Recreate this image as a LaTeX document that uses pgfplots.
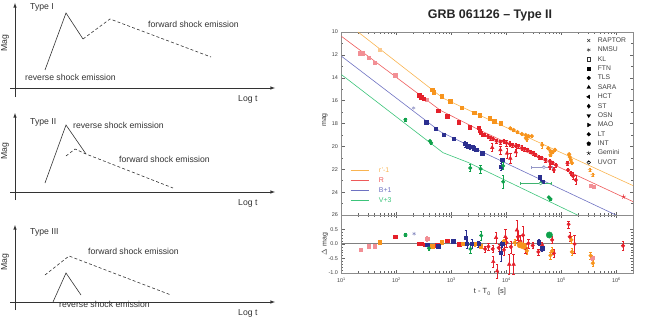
\documentclass[border=0pt]{standalone}
\usepackage{pgfplots}
\pgfplotsset{compat=1.18}
\usepackage{fontspec}
\setmainfont{Liberation Sans}

\definecolor{cOr}{HTML}{F7941D}
\definecolor{cRe}{HTML}{E4202A}
\definecolor{cBl}{HTML}{2B2F8F}
\definecolor{cGr}{HTML}{0FA14B}
\definecolor{lOr}{HTML}{F9B451}
\definecolor{lRe}{HTML}{EE5A5A}
\definecolor{lBl}{HTML}{6E72C2}
\definecolor{lGr}{HTML}{3CC47A}
\definecolor{ink}{HTML}{333333}

\pgfplotsset{
  dat/.style={only marks, mark=square*, mark size=1.7bp, color=#1, mark options={draw=#1, fill=#1}},
  err/.style={error bars/.cd, y dir=both, y explicit,
    error bar style={line width=0.4bp},
    error mark options={rotate=90, mark size=1.2bp, line width=0.4bp}},
}

\begin{document}
\begin{tikzpicture}
\path (0,0) rectangle (645bp,327bp);

% ---------- schematic panels (pixel frame) ----------
\begin{axis}[at={(0,0)}, anchor=south west, scale only axis, width=645bp, height=327bp,
  xmin=0, xmax=645, ymin=0, ymax=327, y dir=reverse, hide axis, clip=false]
  % axes
  \draw[ink, line width=0.6bp, -latex] (axis cs:15,97) -- (axis cs:15,3);
  \draw[ink, line width=0.6bp, -latex] (axis cs:10,88) -- (axis cs:275,88);
  \draw[ink, line width=0.6bp, -latex] (axis cs:15,200) -- (axis cs:15,113);
  \draw[ink, line width=0.6bp, -latex] (axis cs:10,192) -- (axis cs:275,192);
  \draw[ink, line width=0.6bp, -latex] (axis cs:15,310) -- (axis cs:15,225);
  \draw[ink, line width=0.6bp, -latex] (axis cs:10,302) -- (axis cs:275,302);
  % Type I
  \addplot[ink, line width=0.6bp] coordinates {(45,70) (66,13) (83,39)};
  \addplot[ink, line width=0.6bp, dash pattern=on 3bp off 2.2bp] coordinates {(83,39) (110,19) (211,57)};
  % Type II
  \addplot[ink, line width=0.6bp] coordinates {(45,183) (66,125) (86,154)};
  \addplot[ink, line width=0.6bp, dash pattern=on 3bp off 2.2bp] coordinates {(66,156) (75,149) (86,154) (173,188)};
  % Type III
  \addplot[ink, line width=0.6bp, dash pattern=on 3bp off 2.2bp] coordinates {(45,275) (69,256) (171,295)};
  \addplot[ink, line width=0.6bp] coordinates {(53,302) (66,273) (81,295)};

  \begin{scope}[font=\fontsize{8.7}{10}\selectfont, text=ink, inner sep=0pt]
    \node[anchor=base west] at (axis cs:30,9.5) {Type I};
    \node[anchor=base west] at (axis cs:148,28) {forward shock emission};
    \node[anchor=base west] at (axis cs:25,80.5) {reverse shock emission};
    \node[anchor=base west] at (axis cs:30,124) {Type II};
    \node[anchor=base west] at (axis cs:73,128) {reverse shock emission};
    \node[anchor=base west] at (axis cs:119,162) {forward shock emission};
    \node[anchor=base west] at (axis cs:30,234) {Type III};
    \node[anchor=base west] at (axis cs:88,254) {forward shock emission};
    \node[anchor=base west] at (axis cs:59,307) {reverse shock emission};
    \node[anchor=base west] at (axis cs:238,101.5) {Log t};
    \node[anchor=base west] at (axis cs:238,205.5) {Log t};
    \node[anchor=base west] at (axis cs:238,315.5) {Log t};
    \node[rotate=90] at (axis cs:5,43) {Mag};
    \node[rotate=90] at (axis cs:5,151) {Mag};
    \node[rotate=90] at (axis cs:5,262) {Mag};
  \end{scope}
  % right plot labels
  \node[font=\fontsize{12.5}{14}\selectfont\bfseries, text=black!85] at (axis cs:490,15) {GRB 061126 -- Type II};
  \node[rotate=90, font=\fontsize{7}{8}\selectfont, text=black!80] at (axis cs:325,120) {mag};
  \node[rotate=90, font=\fontsize{7}{8}\selectfont, text=black!80] at (axis cs:325,244) {$\Delta$ mag};
  \node[font=\fontsize{7.5}{8}\selectfont, text=black!80] at (axis cs:490,292) {t - T\textsubscript{0}\quad [s]};
\end{axis}

% ---------- light curve ----------
\begin{axis}[scale only axis, anchor=south west, xmode=log, xmin=10, xmax=2e6,
  axis line style={black!45}, tick style={black!60, line width=0.4bp},
  major tick length=3bp, minor tick length=1.6bp,
  tick label style={font=\fontsize{5.5}{6}\selectfont, text=black!75},
  /pgf/number format/assume math mode=true, clip=false,
  at={(341.5bp,112bp)}, width=291.5bp, height=183bp,
  ymin=10, ymax=26, y dir=reverse, ytick={10,12,...,26}, minor y tick num=1,
  xticklabels={},
  legend style={at={(0.019,0.273)}, anchor=north west, draw=none, fill=none,
    font=\fontsize{7}{8}\selectfont, row sep=3.2bp,
    nodes={inner sep=0pt, text height=5.3bp, text depth=1.5bp},
    /tikz/every odd column/.append style={column sep=10bp}},
  legend cell align=left,
  legend image code/.code={\draw[#1, line width=0.7bp] (0bp,0bp) -- (18bp,0bp);}]
  % model curves
  \addplot[lOr, line width=0.6bp] coordinates {(20,10) (700,15.78) (3000,17.2) (2e6,23.43)};
  \addlegendentry{\textcolor{lOr}{r'-1}}
  \addplot[lRe, line width=0.6bp] coordinates {(10,10.38) (630,16.85) (3000,18.5) (2e6,24.83)};
  \addlegendentry{\textcolor{lRe}{R}}
  \addplot[lBl, line width=0.6bp] coordinates {(10,12.12) (630,18.72) (3000,20.3) (977000,26)};
  \addlegendentry{\textcolor{lBl}{B+1}}
  \addplot[lGr, line width=0.6bp] coordinates {(10,13.73) (700,20.55) (2000,21.4) (195000,26)};
  \addlegendentry{\textcolor{lGr}{V+3}}

  % r'-1 data
  \addplot[dat=cOr!50, err] coordinates {(50,11.55) +- (0,0.12)};
  \addplot[dat=cOr] coordinates {(447,15.04) (479,15.27) (661,15.62) (955,16.06) (1550,16.64)
    (2570,17.08) (3240,17.28) (5000,17.55) (6000,17.8) (7800,17.98)};
  \addplot[dat=cOr, mark=*, mark size=1.9bp, err] coordinates {
    (11750,18.42) +- (0,0.1) (13500,18.57) +- (0,0.1) (15850,18.74) +- (0,0.1)
    (19050,18.92) +- (0,0.1) (22400,19.0) +- (0,0.1) (25100,19.1) +- (0,0.12)
    (28800,19.1) +- (0,0.12) (22400,19.27) +- (0,0.1) (23400,19.38) +- (0,0.2)
    (44700,19.88) +- (0,0.25) (57500,20.17) +- (0,0.1) (63100,20.4) +- (0,0.1)
    (69200,20.49) +- (0,0.1) (75900,20.3) +- (0,0.1) (63100,20.75) +- (0,0.1)
    (138000,20.69) +- (0,0.1) (141300,20.93) +- (0,0.1) (147900,21.19) +- (0,0.1)
    (154900,21.45) +- (0,0.1)};
  \addplot[dat=cOr, mark=star, mark size=2.4bp, err] coordinates {(331000,22.06) +- (0,0.12) (371500,22.5) +- (0,0.12)};

  % R data
  \addplot[dat=cRe!50, err] coordinates {(22,11.84) +- (0,0.1) (24.5,11.84) +- (0,0.1)
    (31,12.27) +- (0,0.1) (40,12.71) +- (0,0.1) (95,13.79) +- (0,0.1) (355,15.92) +- (0,0.1)
    (338800,23.46) +- (0,0.1) (389000,23.55) +- (0,0.1)};
  \addplot[dat=cRe] coordinates {(257,15.53) (282,15.7) (309,15.83) (575,16.88) (832,17.37)
    (1350,17.89) (2140,18.33) (3160,18.39) (3240,18.65) (3390,18.83) (3800,19.0)};
  \addplot[dat=cRe, mark=*, mark size=1.8bp, err] coordinates {
    (4570,19.1) +- (0,0.15) (5130,19.27) +- (0,0.15) (5750,19.35) +- (0,0.15)
    (6600,19.53) +- (0,0.2) (7760,19.62) +- (0,0.2) (8910,19.53) +- (0,0.2)
    (10000,19.7) +- (0,0.25) (11480,19.79) +- (0,0.2) (12880,19.88) +- (0,0.2)
    (14790,19.97) +- (0,0.25) (16600,19.97) +- (0,0.2) (19050,20.14) +- (0,0.2)
    (21380,20.23) +- (0,0.2) (24000,20.31) +- (0,0.15) (27500,20.49) +- (0,0.15)
    (30900,20.58) +- (0,0.15)
    (33900,20.75) +- (0,0.15) (38900,20.93) +- (0,0.15) (43650,21.01) +- (0,0.15)
    (51300,21.19) +- (0,0.15) (61700,21.28) +- (0,0.15) (69200,21.45) +- (0,0.15)
    (79400,21.63) +- (0,0.15) (61700,21.8) +- (0,0.2) (72400,22.06) +- (0,0.2)
    (128800,21.48) +- (0,0.15) (131800,22.06) +- (0,0.15) (147900,22.33) +- (0,0.2)
    (162200,22.59) +- (0,0.3) (182000,22.94) +- (0,0.4)};
  \addplot[dat=cRe, mark=triangle*, mark size=2.1bp, err] coordinates {
    (5500,20.11) +- (0,0.35) (7760,20.31) +- (0,0.35) (10230,20.6) +- (0,0.4)
    (11750,21.04) +- (0,0.45) (14790,20.49) +- (0,0.4)};
  \addplot[dat=cRe, mark=star, mark size=2.4bp] coordinates {(1349000,24.4)};

  % B+1 data
  \addplot[dat=cBl!55, mark=asterisk, mark size=1.9bp] coordinates {(204,16.64)};
  \addplot[dat=cBl, err] coordinates {(347,17.87) +- (0,0.05) (513,18.48) +- (0,0.05)
    (724,18.98) +- (0,0.05) (1096,19.33) +- (0,0.05) (1778,19.79) +- (0,0.25)
    (1995,19.99) +- (0,0.2) (2190,20.05) +- (0,0.2) (2510,20.14) +- (0,0.2)
    (2820,20.31) +- (0,0.1) (3630,20.58) +- (0,0.1) (8320,21.19) +- (0,0.15)
    (7940,21.77) +- (0,0.3) (40700,22.7) +- (0,0.1) (44700,23.08) +- (0,0.1)};

  % V+3 data
  \addplot[dat=cGr, mark=*, mark size=1.8bp, err] coordinates {(145,17.67) +- (0,0.1)
    (407,19.53) +- (0,0.1) (427,19.7) +- (0,0.1) (2190,21.89) +- (0,0.3)
    (3390,21.97) +- (0,0.35) (8710,21.7) +- (0,0.3) (8710,23.1) +- (0,0.6)
    (58900,24.45) +- (0,0.1) (63100,24.6) +- (0,0.1)};
  \addplot[dat=cGr!80, mark=halfcircle*, mark size=1.7bp,
    error bars/.cd, x dir=both, x explicit, error bar style={line width=0.4bp}]
    coordinates {(41700,23.22) +- (24000,0)};
  \addplot[dat=cBl!50, mark=halfcircle*, mark size=1.7bp,
    error bars/.cd, x dir=both, x explicit, error bar style={line width=0.4bp}]
    coordinates {(47800,21.83) +- (20000,0)};
\end{axis}

% ---------- instrument legend ----------
\begin{axis}[at={(341.5bp,112bp)}, anchor=south west, scale only axis, width=291.5bp, height=183bp,
  xmin=0, xmax=1, ymin=0, ymax=1, hide axis,
  legend style={at={(0.83,0.984)}, anchor=north west, draw=none, fill=none,
    font=\fontsize{6.8}{7}\selectfont, text=black!75, row sep=2.58bp,
    nodes={inner sep=0pt, text height=5.3bp, text depth=1.5bp},
    /tikz/every odd column/.append style={column sep=7bp}},
  legend cell align=left]
  \addlegendimage{only marks, mark=x, mark size=2bp, black!80}\addlegendentry{RAPTOR}
  \addlegendimage{only marks, mark=asterisk, mark size=2bp, black!80}\addlegendentry{NMSU}
  \addlegendimage{only marks, mark=square, mark size=1.8bp, black!80}\addlegendentry{KL}
  \addlegendimage{only marks, mark=square*, mark size=1.6bp, black}\addlegendentry{FTN}
  \addlegendimage{only marks, mark=*, mark size=1.8bp, black}\addlegendentry{TLS}
  \addlegendimage{only marks, mark=triangle*, mark size=2.1bp, black}\addlegendentry{SARA}
  \addlegendimage{only marks, mark=triangle*, mark size=2.1bp, mark options={rotate=90}, black}\addlegendentry{HCT}
  \addlegendimage{only marks, mark=diamond*, mark size=2.1bp, black}\addlegendentry{ST}
  \addlegendimage{only marks, mark=triangle*, mark size=2.1bp, mark options={rotate=180}, black}\addlegendentry{OSN}
  \addlegendimage{only marks, mark=triangle*, mark size=2.1bp, mark options={rotate=-90}, black}\addlegendentry{MAO}
  \addlegendimage{only marks, mark=*, mark size=1.8bp, black}\addlegendentry{LT}
  \addlegendimage{only marks, mark=pentagon*, mark size=2bp, black}\addlegendentry{INT}
  \addlegendimage{only marks, mark=star, mark size=2.2bp, black}\addlegendentry{Gemini}
  \addlegendimage{only marks, mark=halfcircle*, mark size=1.8bp, black}\addlegendentry{UVOT}
\end{axis}

% ---------- residuals ----------
\begin{axis}[scale only axis, anchor=south west, xmode=log, xmin=10, xmax=2e6,
  axis line style={black!45}, tick style={black!60, line width=0.4bp},
  major tick length=3bp, minor tick length=1.6bp,
  tick label style={font=\fontsize{5.5}{6}\selectfont, text=black!75},
  /pgf/number format/assume math mode=true, clip=false,
  at={(341.5bp,54bp)}, width=291.5bp, height=58bp,
  ymin=-1, ymax=1, ytick={-1,-0.5,0,0.5}, yticklabels={-1.0,-0.5,0.0,0.5},
  minor y tick num=4,
  xtick={10,100,1000,10000,100000,1000000},
  xticklabels={10\textsuperscript{1},10\textsuperscript{2},10\textsuperscript{3},10\textsuperscript{4},10\textsuperscript{5},10\textsuperscript{6}},
  xticklabel style={yshift=-1bp}]
  \addplot[black!50, line width=1bp] coordinates {(10,0) (2e6,0)};
  % R
  \addplot[dat=cRe!50, err] coordinates {(22.4,-0.2) +- (0,0.04) (31.3,-0.08) +- (0,0.04)
    (40.3,-0.08) +- (0,0.04) (359,0.19) +- (0,0.08) (363000,-0.47) +- (0,0.08)};
  \addplot[dat=cRe, err] coordinates {(95,0.25) +- (0,0.04) (257,0.02) +- (0,0.04)
    (288,0.0) +- (0,0.04) (324,-0.02) +- (0,0.04) (550,-0.04) +- (0,0.04)
    (832,0.11) +- (0,0.04) (1380,-0.01) +- (0,0.04)};
  \addplot[dat=cRe, mark=*, mark size=1.8bp, err] coordinates {
    (4074,-0.17) +- (0,0.1) (4677,-0.09) +- (0,0.12) (5623,-0.17) +- (0,0.12)
    (7244,-0.13) +- (0,0.12) (9000,-0.2) +- (0,0.2) (10000,0.05) +- (0,0.15)
    (12000,-0.1) +- (0,0.2) (16218,0.25) +- (0,0.2) (18000,0.1) +- (0,0.2)
    (20000,0.3) +- (0,0.3) (22000,-0.15) +- (0,0.15) (25000,0.02) +- (0,0.15)
    (30000,-0.05) +- (0,0.1) (38019,-0.27) +- (0,0.1) (44668,-0.04) +- (0,0.1)
    (67608,0.14) +- (0,0.12) (72444,-0.32) +- (0,0.15) (134896,0.68) +- (0,0.12)
    (141254,0.25) +- (0,0.15) (173780,0.0) +- (0,0.3) (1318257,-0.06) +- (0,0.15)};
  \addplot[dat=cRe, mark=triangle*, mark size=2.1bp, err] coordinates {
    (5754,-0.61) +- (0,0.2) (6457,0.22) +- (0,0.2) (6761,-0.93) +- (0,0.25)
    (9550,0.25) +- (0,0.25) (11220,-0.7) +- (0,0.35) (13490,-0.7) +- (0,0.35)
    (15490,0.48) +- (0,0.35)};
  % r'-1
  \addplot[dat=cOr, err] coordinates {(50,0.06) +- (0,0.04) (447,-0.07) +- (0,0.06)
    (661,0.06) +- (0,0.04) (1585,0.0) +- (0,0.04) (2692,0.0) +- (0,0.06)
    (3388,-0.07) +- (0,0.06) (8913,0.08) +- (0,0.1)};
  \addplot[dat=cOr, mark=*, mark size=1.9bp, err] coordinates {(14125,0.05) +- (0,0.1)
    (23442,-0.24) +- (0,0.12) (63096,-0.39) +- (0,0.12) (67608,-0.24) +- (0,0.12)
    (151356,0.14) +- (0,0.12) (154882,-0.27) +- (0,0.12) (338844,-0.4) +- (0,0.12)
    (371535,-0.66) +- (0,0.12)};
  \addplot[dat=cOr, mark=*, mark size=3.2bp] coordinates {(17783,-0.03) (20417,-0.07)};
  % B+1
  \addplot[dat=cBl!55, mark=asterisk, mark size=1.9bp] coordinates {(209,0.355)};
  \addplot[dat=cBl, err] coordinates {(359,-0.03) +- (0,0.05) (575,-0.07) +- (0,0.05)
    (1072,0.09) +- (0,0.05) (1820,0.22) +- (0,0.25) (1905,0.0) +- (0,0.15)
    (2344,0.0) +- (0,0.15) (3090,0.0) +- (0,0.1) (7943,-0.29) +- (0,0.3)
    (8318,0.0) +- (0,0.1) (38905,0.06) +- (0,0.1) (44668,-0.14) +- (0,0.1)};
  % V+3
  \addplot[dat=cGr, mark=*, mark size=1.8bp, err] coordinates {(146,0.31) +- (0,0.05)
    (389,-0.15) +- (0,0.05) (2213,-0.17) +- (0,0.15) (3467,0.29) +- (0,0.15)};
  \addplot[dat=cGr, mark=*, mark size=3.2bp] coordinates {(60256,0.31)};
\end{axis}
\end{tikzpicture}
\end{document}
